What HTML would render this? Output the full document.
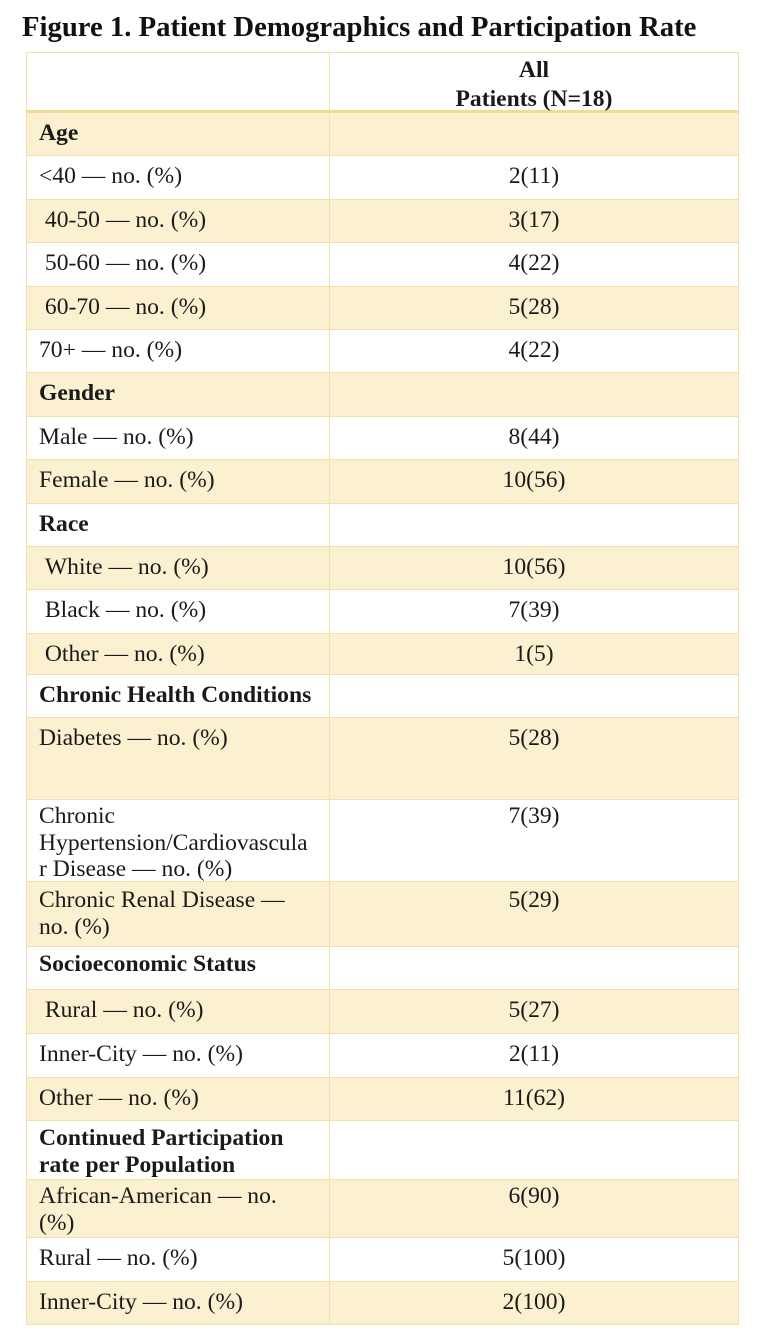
<!DOCTYPE html>
<html><head><style>
body{margin:0;width:772px;height:1344px;background:#fff;font-family:"Liberation Serif",serif;color:#1a1a1a;position:relative;overflow:hidden}
.t{position:absolute;left:22px;top:11px;font-size:28.7px;font-weight:bold;color:#111;white-space:nowrap}
.r{position:absolute;left:26px;width:713px;box-sizing:border-box;border:1px solid #f1e1a8;border-top:none}
.s{background:#fbf0cf}
.a,.b{position:absolute;top:0;bottom:0;font-size:23.6px;line-height:26.5px;padding-top:7px;box-sizing:border-box;white-space:nowrap}
.a{left:0;width:303px;padding-left:12px;border-right:1px solid #f1e1a8}
.b{left:303px;right:0;text-align:center}
.h{font-weight:bold;font-size:23.6px}
</style></head><body>
<div class="t">Figure 1. Patient Demographics and Participation Rate</div>
<div class="r" style="top:52px;height:61px;border-top:1px solid #f1e1a8;border-bottom:3px solid #f3dc90"><div class="a"></div><div class="b h" style="padding-top:3px;line-height:29px">All<br>Patients (N=18)</div></div>
<div class="r s" style="top:113px;height:43px"><div class="a h">Age</div><div class="b"></div></div>
<div class="r" style="top:156px;height:44px"><div class="a">&lt;40 — no. (%)</div><div class="b">2(11)</div></div>
<div class="r s" style="top:200px;height:43px"><div class="a">&nbsp;40-50 — no. (%)</div><div class="b">3(17)</div></div>
<div class="r" style="top:243px;height:44px"><div class="a">&nbsp;50-60 — no. (%)</div><div class="b">4(22)</div></div>
<div class="r s" style="top:287px;height:43px"><div class="a">&nbsp;60-70 — no. (%)</div><div class="b">5(28)</div></div>
<div class="r" style="top:330px;height:43px"><div class="a">70+ — no. (%)</div><div class="b">4(22)</div></div>
<div class="r s" style="top:373px;height:44px"><div class="a h">Gender</div><div class="b"></div></div>
<div class="r" style="top:417px;height:43px"><div class="a">Male — no. (%)</div><div class="b">8(44)</div></div>
<div class="r s" style="top:460px;height:44px"><div class="a">Female — no. (%)</div><div class="b">10(56)</div></div>
<div class="r" style="top:504px;height:43px"><div class="a h">Race</div><div class="b"></div></div>
<div class="r s" style="top:547px;height:43px"><div class="a">&nbsp;White — no. (%)</div><div class="b">10(56)</div></div>
<div class="r" style="top:590px;height:44px"><div class="a">&nbsp;Black — no. (%)</div><div class="b">7(39)</div></div>
<div class="r s" style="top:634px;height:41px"><div class="a">&nbsp;Other — no. (%)</div><div class="b">1(5)</div></div>
<div class="r" style="top:675px;height:43px"><div class="a h">Chronic Health Conditions</div><div class="b"></div></div>
<div class="r s" style="top:718px;height:82px"><div class="a">Diabetes — no. (%)</div><div class="b">5(28)</div></div>
<div class="r" style="top:800px;height:82px"><div class="a" style="padding-top:3px">Chronic<br>Hypertension/Cardiovascula<br>r Disease — no. (%)</div><div class="b" style="padding-top:3px">7(39)</div></div>
<div class="r s" style="top:882px;height:65px"><div class="a" style="padding-top:5px">Chronic Renal Disease —<br>no. (%)</div><div class="b" style="padding-top:5px">5(29)</div></div>
<div class="r" style="top:947px;height:43px"><div class="a h" style="padding-top:4px">Socioeconomic Status</div><div class="b"></div></div>
<div class="r s" style="top:990px;height:44px"><div class="a">&nbsp;Rural — no. (%)</div><div class="b">5(27)</div></div>
<div class="r" style="top:1034px;height:44px"><div class="a">Inner-City — no. (%)</div><div class="b">2(11)</div></div>
<div class="r s" style="top:1078px;height:43px"><div class="a">Other — no. (%)</div><div class="b">11(62)</div></div>
<div class="r" style="top:1121px;height:59px"><div class="a h" style="padding-top:4px">Continued Participation<br>rate per Population</div><div class="b"></div></div>
<div class="r s" style="top:1180px;height:58px"><div class="a" style="padding-top:3px">African-American — no.<br>(%)</div><div class="b" style="padding-top:3px">6(90)</div></div>
<div class="r" style="top:1238px;height:44px"><div class="a">Rural — no. (%)</div><div class="b">5(100)</div></div>
<div class="r s" style="top:1282px;height:43px"><div class="a">Inner-City — no. (%)</div><div class="b">2(100)</div></div>
</body></html>
